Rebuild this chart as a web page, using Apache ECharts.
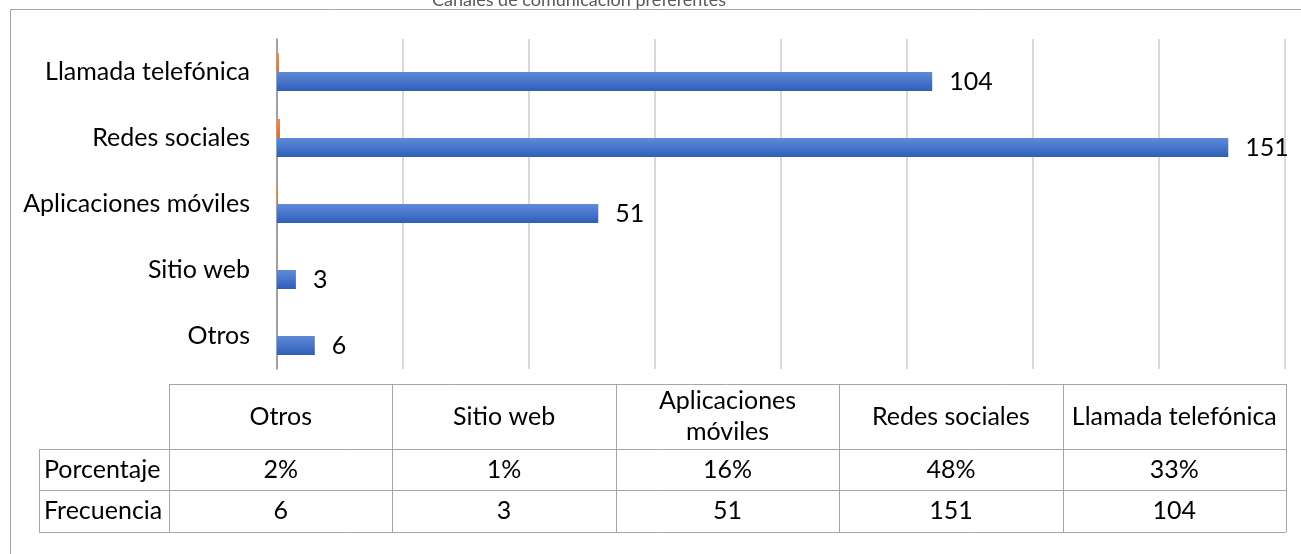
<!DOCTYPE html>
<html>
<head>
<meta charset="utf-8">
<script src="https://cdn.jsdelivr.net/npm/echarts@6/dist/echarts.min.js"></script>
<style>html,body{margin:0;padding:0;background:#fff}#c{width:1301px;height:554px}</style>
</head>
<body>
<div id="c"></div>
<script>
const categories = ['Otros', 'Sitio web', 'Aplicaciones móviles', 'Redes sociales', 'Llamada telefónica'];
const headerLabels = ['Otros', 'Sitio web', 'Aplicaciones\nmóviles', 'Redes sociales', 'Llamada telefónica'];
const porcentaje = [0.02, 0.01, 0.16, 0.48, 0.33];
const frecuencia = [6, 3, 51, 151, 104];
const porcentajeLabels = ['2%', '1%', '16%', '48%', '33%'];
const seriesNames = ['Porcentaje', 'Frecuencia'];

const FONT = 'Lato';
const FS = 25;
const chart = echarts.init(document.getElementById('c'), null, {renderer: 'canvas'});

// data table geometry
const tLeft = 169, tRight = 1286, labLeft = 39;
const rowY = [384, 449, 490, 532];
const colW = (tRight - tLeft) / categories.length;
const lineColor = '#a6a6a6';
const graphics = [];
graphics.push({type: 'rect', shape: {x: 10.5, y: 9.5, width: 1400, height: 700}, style: {fill: null, stroke: '#a6a6a6', lineWidth: 1}, silent: true});
graphics.push({type: 'line', shape: {x1: tLeft, y1: rowY[0] + 0.5, x2: tRight, y2: rowY[0] + 0.5}, style: {stroke: lineColor, lineWidth: 1}});
for (let i = 1; i < rowY.length; i++) {
  graphics.push({type: 'line', shape: {x1: labLeft, y1: rowY[i] + 0.5, x2: tRight, y2: rowY[i] + 0.5}, style: {stroke: lineColor, lineWidth: 1}});
}
graphics.push({type: 'line', shape: {x1: labLeft + 0.5, y1: rowY[1], x2: labLeft + 0.5, y2: rowY[3]}, style: {stroke: lineColor, lineWidth: 1}});
for (let j = 0; j <= categories.length; j++) {
  const x = Math.round(tLeft + j * colW) + 0.5;
  graphics.push({type: 'line', shape: {x1: x, y1: rowY[0], x2: x, y2: rowY[3]}, style: {stroke: lineColor, lineWidth: 1}});
}
const rowVals = [porcentajeLabels, frecuencia.map(String)];
seriesNames.forEach((n, r) => {
  graphics.push({type: 'text', x: labLeft + 5, y: (rowY[r + 1] + rowY[r + 2]) / 2, style: {text: n, font: FS + 'px ' + FONT, fill: '#000', textAlign: 'left', textVerticalAlign: 'middle'}});
});
headerLabels.forEach((h, j) => {
  const cx = tLeft + (j + 0.5) * colW;
  graphics.push({type: 'text', x: cx, y: (rowY[0] + rowY[1]) / 2, style: {text: h, font: FS + 'px ' + FONT, fill: '#000', textAlign: 'center', textVerticalAlign: 'middle', lineHeight: 31}});
  rowVals.forEach((vals, r) => {
    graphics.push({type: 'text', x: cx, y: (rowY[r + 1] + rowY[r + 2]) / 2, style: {text: vals[j], font: FS + 'px ' + FONT, fill: '#000', textAlign: 'center', textVerticalAlign: 'middle'}});
  });
});

const blueGrad = new echarts.graphic.LinearGradient(0, 0, 0, 1, [{offset: 0, color: '#5f8bd8'}, {offset: 1, color: '#2e5eb9'}]);
const orangeGrad = new echarts.graphic.LinearGradient(0, 0, 0, 1, [{offset: 0, color: '#f48a45'}, {offset: 1, color: '#e26f22'}]);

chart.setOption({
  animation: false,
  textStyle: {fontFamily: FONT},
  title: {text: 'Canales de comunicación preferentes', left: 427, top: -14, textStyle: {fontFamily: FONT, fontSize: 18, fontWeight: 'normal', color: '#595959'}},
  grid: {left: 277, right: 16, top: 39, bottom: 185, containLabel: false},
  xAxis: {
    type: 'value', min: 0, max: 160, interval: 20,
    axisLabel: {show: false}, axisLine: {show: false}, axisTick: {show: false},
    splitLine: {show: true, lineStyle: {color: '#d9d9d9', width: 2}}
  },
  yAxis: {
    type: 'category', data: categories,
    axisLine: {show: true, lineStyle: {color: '#8c8c8c', width: 1.5}},
    axisTick: {show: false},
    axisLabel: {fontSize: FS, color: '#000', margin: 27, fontFamily: FONT}
  },
  series: [
    {name: seriesNames[0], type: 'bar', data: porcentaje, barWidth: 19, barGap: '0%', itemStyle: {color: orangeGrad}},
    {name: seriesNames[1], type: 'bar', data: frecuencia, barWidth: 19, barGap: '0%', itemStyle: {color: blueGrad},
     label: {show: true, position: 'right', distance: 17, fontSize: FS, color: '#000', fontFamily: FONT}}
  ],
  graphic: graphics
});
</script>
</body>
</html>
